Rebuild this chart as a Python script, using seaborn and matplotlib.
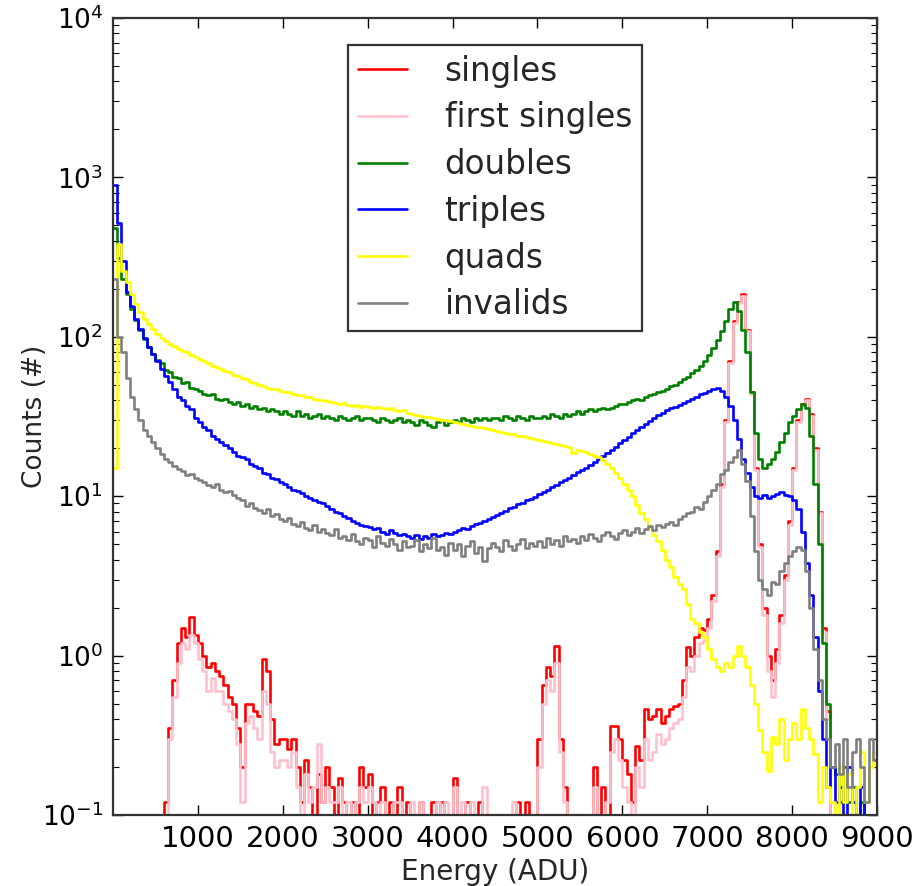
import numpy as np
import pandas as pd
import matplotlib
matplotlib.use('Agg')
import matplotlib.pyplot as plt
import seaborn as sns

# ---------------- data (50 ADU bins, 0..9000) ----------------
BIN_WIDTH = 50
EDGES = np.arange(0, 9000 + BIN_WIDTH, BIN_WIDTH)
CENTERS = EDGES[:-1] + BIN_WIDTH / 2

singles = [
    0, 0, 0, 0, 0, 0, 0, 0, 0, 0,
    0, 0, 0.12, 0.35, 0.7, 1.2, 1.5, 1.3, 1.75, 1.35,
    1.2, 1.0, 0.85, 0.9, 0.8, 0.75, 0.65, 0.55, 0.5, 0.35,
    0.2, 0.5, 0.5, 0.45, 0.42, 0.95, 0.8, 0.4, 0.28, 0.3,
    0.3, 0.26, 0.3, 0.2, 0.12, 0.22, 0.15, 0, 0.18, 0.12,
    0.2, 0.15, 0, 0.17, 0.12, 0, 0.12, 0, 0.2, 0.15,
    0.18, 0, 0.12, 0.15, 0, 0.12, 0, 0.15, 0, 0.12,
    0, 0, 0.12, 0, 0, 0.12, 0, 0.12, 0, 0,
    0.17, 0, 0, 0.12, 0, 0, 0.12, 0, 0, 0,
    0, 0, 0, 0, 0, 0.12, 0, 0.12, 0, 0,
    0.3, 0.65, 0.85, 0.75, 1.15, 0.3, 0.15, 0, 0, 0,
    0, 0, 0, 0.2, 0, 0.15, 0, 0.36, 0.36, 0.3,
    0.22, 0.18, 0.12, 0.27, 0.22, 0.46, 0.4, 0.42, 0.46, 0.38,
    0.42, 0.46, 0.48, 0.5, 0.7, 1.14, 1.0, 1.3, 1.5, 1.45,
    1.7, 2.4, 4.5, 12, 30, 70, 125, 165, 185, 110,
    45, 15, 5, 2, 1.0, 0.7, 1.1, 1.8, 3.2, 7,
    15, 30, 38, 41, 33, 20, 8, 1.5, 0.45, 0,
    0, 0, 0, 0, 0, 0, 0, 0, 0, 0,
]

first_singles = [
    0, 0, 0, 0, 0, 0, 0, 0, 0, 0,
    0, 0, 0.1, 0.3, 0.55, 0.9, 1.2, 1.1, 1.35, 1.2,
    0.95, 0.8, 0.6, 0.72, 0.6, 0.6, 0.5, 0.45, 0.4, 0.28,
    0.12, 0.38, 0.42, 0.35, 0.3, 0.6, 0.5, 0.25, 0.2, 0.22,
    0.22, 0.2, 0.25, 0.15, 0.1, 0.18, 0.12, 0.15, 0.28, 0.12,
    0.15, 0.12, 0.12, 0.15, 0.1, 0.12, 0, 0.12, 0.15, 0.12,
    0.15, 0.12, 0, 0.12, 0.1, 0, 0.12, 0.12, 0.1, 0,
    0.12, 0, 0.12, 0.1, 0, 0, 0.12, 0, 0.12, 0,
    0.15, 0, 0.12, 0, 0.12, 0, 0, 0.15, 0, 0,
    0, 0, 0, 0, 0.12, 0, 0, 0, 0, 0,
    0.2, 0.5, 0.7, 0.6, 0.9, 0.25, 0.12, 0, 0, 0,
    0, 0, 0, 0.15, 0, 0, 0.12, 0.25, 0.3, 0.22,
    0.15, 0.12, 0.1, 0.2, 0.15, 0.3, 0.22, 0.25, 0.32, 0.28,
    0.3, 0.35, 0.38, 0.4, 0.55, 0.85, 0.8, 1.0, 1.2, 1.25,
    1.5, 2.2, 4.2, 11.5, 29, 68, 122, 162, 180, 108,
    44, 14.5, 4.8, 1.8, 0.8, 0.55, 0.9, 1.6, 3.0, 6.6,
    14.5, 29, 37, 40, 32, 19.5, 7.8, 1.4, 0.4, 0,
    0, 0, 0, 0, 0, 0, 0, 0, 0, 0,
]

doubles = [
    480, 310, 230, 185, 150, 128, 110, 97, 86, 78,
    72, 68, 62, 60, 56, 55, 51, 52, 48, 47,
    46, 44, 43, 44, 41, 40, 41, 39, 38, 39,
    37, 38, 36, 37, 35, 36, 34, 35, 34, 33,
    34, 33, 32, 34, 32, 33, 31, 32, 33, 31,
    32, 31, 30, 32, 31, 30, 31, 32, 30, 31,
    31, 30, 29, 31, 30, 29, 30, 31, 29, 30,
    29, 28, 30, 29, 28, 27, 29, 30, 28, 29,
    30, 29, 31, 30, 29, 31, 30, 31, 30, 31,
    31, 30, 32, 31, 30, 32, 31, 30, 32, 31,
    31, 32, 31, 33, 32, 31, 33, 32, 33, 34,
    33, 34, 35, 34, 35, 36, 35, 36, 37, 38,
    38, 39, 40, 41, 40, 42, 43, 44, 45, 46,
    47, 49, 50, 52, 54, 56, 59, 62, 66, 71,
    77, 85, 95, 108, 125, 150, 165, 145, 110, 80,
    45, 25, 17, 15, 16, 17, 19, 22, 25, 29,
    32, 35, 38, 36, 24, 12, 5, 1.2, 0.5, 0.2,
    0.18, 0.12, 0.2, 0.12, 0.15, 0, 0.12, 0, 0, 0,
]

triples = [
    900, 520, 300, 190, 155, 130, 112, 98, 86, 78,
    70, 63, 57, 52, 47, 42, 40, 37, 35, 31,
    29, 27, 26, 24, 23, 22, 21, 20, 19, 18,
    17.5, 17, 16, 15.5, 15, 14, 13.8, 13, 12.8, 12.3,
    12, 11.5, 11, 10.8, 10.5, 10, 9.8, 9.5, 9.2, 9,
    8.7, 8.3, 8, 7.8, 7.5, 7.3, 7, 6.8, 6.6, 6.5,
    6.4, 6.2, 6.3, 6.0, 5.8, 6.1, 5.9, 5.7, 5.8, 5.6,
    5.5, 5.7, 5.4, 5.6, 5.5, 5.8, 5.6, 5.7, 5.9, 5.8,
    6.0, 6.1, 6.3, 6.2, 6.5, 6.7, 6.8, 7.0, 7.2, 7.4,
    7.6, 7.9, 8.1, 8.4, 8.6, 8.9, 9.1, 9.4, 9.6, 9.9,
    10.3, 10.6, 11, 11.4, 11.8, 12.2, 12.7, 13.1, 13.6, 14.1,
    14.6, 15.1, 15.7, 16.3, 17, 17.8, 18.6, 19.5, 20.5, 21.5,
    22.5, 23.5, 24.8, 26, 27, 28.5, 29.5, 31, 32.5, 33.5,
    34.5, 35.5, 36.5, 37.5, 38.5, 39.5, 41, 42, 43.5, 44.5,
    46, 47, 47.5, 46, 42, 37, 30, 23, 17, 14,
    11.5, 10, 9.8, 10.2, 9.7, 10.1, 10.3, 10.6, 10.2, 10.0,
    9.5, 8.3, 6.0, 3.8, 2.4, 1.3, 0.6, 0.3, 0.15, 0.2,
    0.12, 0.15, 0.1, 0.2, 0.12, 0, 0.15, 0, 0.1, 0,
]

quads = [
    15, 380, 260, 220, 185, 160, 143, 130, 120, 112,
    104, 98, 94, 90, 87, 84, 82, 80, 77, 75,
    73, 71, 68, 66, 65, 63, 61, 60, 58, 57,
    55, 54, 52, 51, 50, 49, 48, 47, 47, 46,
    45, 45, 44, 43, 43, 42, 42, 41, 40, 40,
    39.5, 39, 38.5, 38, 38.5, 37.5, 37, 37.5, 36.5, 37,
    36.5, 36, 36.5, 35.5, 35, 35.5, 34.5, 34, 34.5, 33.5,
    33, 32.5, 32, 31.5, 31.5, 31, 30.5, 30, 30, 29.5,
    29, 28.7, 28.3, 28, 27.6, 27.3, 27, 26.6, 26.3, 26,
    25.8, 25.4, 25, 24.7, 24.4, 24, 23.7, 23.4, 23.1, 22.8,
    22.5, 22.2, 21.9, 21.6, 21.3, 21, 20.7, 20.4, 18.6, 19.5,
    19.2, 18.8, 18.4, 18, 17.5, 16.8, 16, 15, 14, 13,
    12, 11, 10, 8.8, 7.8, 7.2, 6.4, 5.7, 5.2, 4.6,
    4.0, 3.6, 3.1, 2.8, 2.6, 2.1, 1.7, 1.6, 1.4, 1.3,
    1.1, 0.95, 0.85, 0.8, 0.9, 0.85, 1.0, 1.15, 1.0, 0.85,
    0.65, 0.5, 0.34, 0.25, 0.19, 0.31, 0.28, 0.4, 0.22, 0.3,
    0.38, 0.3, 0.46, 0.35, 0.3, 0.24, 0.12, 0.2, 0.15, 0.12,
    0.1, 0.2, 0.12, 0.18, 0.1, 0.15, 0.25, 0.12, 0.2, 0.25,
]

invalids = [
    230, 100, 80, 55, 42, 35, 30, 26, 24, 22,
    20, 18.5, 17, 16.5, 15.5, 14.8, 14.3, 13.5, 13.8, 13,
    12.6, 12.2, 11.8, 11.5, 11.9, 11, 10.6, 10.8, 10.2, 9.8,
    9.5, 8.7, 9.1, 8.4, 8.2, 7.9, 8.3, 7.5, 7.7, 7.2,
    7.0, 7.3, 6.7, 6.5, 6.9, 6.3, 6.1, 6.6, 6.0, 6.2,
    5.9, 5.7, 6.2, 5.5, 5.6, 5.3, 5.8, 5.2, 5.0, 5.5,
    5.3, 4.8, 5.6, 5.1, 4.9, 5.4, 5.0, 4.6, 5.2, 4.8,
    4.9, 5.3, 4.5, 5.0, 4.7, 5.5, 4.6, 4.8, 4.3, 5.1,
    4.6, 5.0, 4.2, 4.9, 5.2, 4.4, 4.8, 3.9, 4.7, 5.1,
    4.8, 4.5, 5.3, 4.9, 4.6, 5.0, 5.4, 4.7, 5.1, 4.9,
    5.2, 4.8, 5.5, 5.0, 5.3, 4.9, 5.6, 5.2, 5.4, 5.1,
    5.6, 5.3, 5.8, 5.5, 5.2, 5.7, 6.0, 5.6, 5.4, 5.9,
    6.1, 5.7, 6.0, 6.3, 5.9, 6.2, 6.5, 6.1, 6.6, 6.4,
    6.7, 6.9, 6.6, 7.2, 7.5, 7.8, 8.0, 8.6, 8.3, 9.2,
    10, 11, 12, 13.8, 14.5, 16.5, 17.5, 19.5, 16, 12.5,
    7.5, 4.5, 3.0, 2.6, 2.4, 2.9, 2.8, 3.4, 3.8, 4.2,
    4.5, 4.8, 4.6, 3.4, 2.0, 1.1, 0.7, 0.4, 0.3, 0.2,
    0.28, 0.18, 0.3, 0.15, 0.25, 0.3, 0.2, 0.12, 0.3, 0.22,
]

SERIES = [
    ("singles", singles, "#ff0000"),
    ("first singles", first_singles, "pink"),
    ("doubles", doubles, "#008000"),
    ("triples", triples, "#0000ff"),
    ("quads", quads, "#ffff00"),
    ("invalids", invalids, "gray"),
]

frames = []
for name, vals, _ in SERIES:
    assert len(vals) == len(CENTERS), name
    frames.append(pd.DataFrame({"energy": CENTERS, "count": vals, "kind": name}))
df = pd.concat(frames, ignore_index=True)

# ---------------- plot ----------------
sns.set_style("white")
plt.rcParams['font.family'] = ['DejaVu Sans']
plt.rcParams['mathtext.fontset'] = 'dejavusans'

fig = plt.figure(figsize=(9.15, 8.86), dpi=100)
fig.patch.set_facecolor('white')
ax = fig.add_axes([113 / 915, 71 / 886, 764 / 915, 797 / 886])

for name, _, color in SERIES:
    sub = df[df["kind"] == name]
    sns.histplot(data=sub, x="energy", weights="count",
                 binwidth=BIN_WIDTH, binrange=(0, 9000),
                 element="step", fill=False, color=color, linewidth=1.9,
                 label=name, ax=ax)

ax.set_yscale('log')
ax.set_xlim(0, 9000)
ax.set_ylim(0.1, 1e4)
ax.set_xticks(range(1000, 9001, 1000))

ax.set_xlabel("Energy (ADU)", fontsize=20, labelpad=4)
ax.set_ylabel("Counts (#)", fontsize=19, labelpad=-4)

ax.tick_params(which='both', direction='in', top=True, right=True,
               bottom=True, left=True, colors='black')
ax.tick_params(which='major', length=7, width=1.0, pad=7)
ax.tick_params(axis='x', which='major', labelsize=21)
ax.tick_params(axis='y', which='major', labelsize=19)
ax.tick_params(which='minor', length=4, width=0.8)
ax.tick_params(axis='x', which='minor', bottom=False, top=False)
for sp in ax.spines.values():
    sp.set_color('#333333')
    sp.set_linewidth(1.6)

leg = ax.legend(loc='upper center', bbox_to_anchor=(0.5, 1 - 27 / 797),
                borderaxespad=0, fontsize=23.5, fancybox=False, framealpha=1,
                edgecolor='#333333', handlelength=1.5, handletextpad=1.15,
                labelspacing=0.42, borderpad=0.3)
leg.get_frame().set_linewidth(1.6)

plt.savefig("out.png", dpi=100)
plt.close()
